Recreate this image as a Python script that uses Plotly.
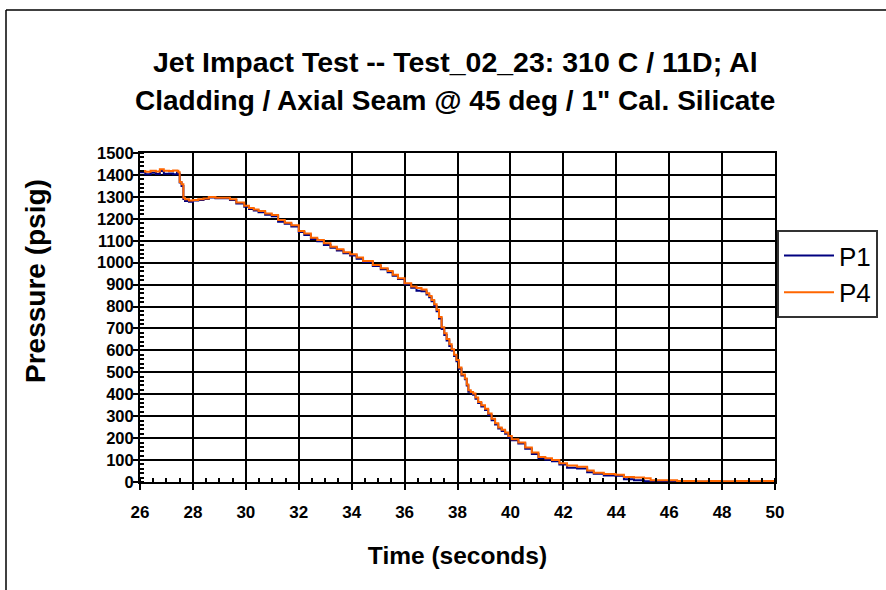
import plotly.graph_objects as go

# ---- data ----
time_s = [26.0, 26.2, 26.4, 26.6, 26.75, 26.9, 27.1, 27.25, 27.4, 27.45, 27.5, 27.57, 27.64, 27.7,
          27.85, 28.0, 28.2, 28.4, 28.6, 28.85, 29.15, 29.4, 29.64, 29.94, 30.12, 30.3, 30.48,
          30.73, 30.98, 31.22, 31.47, 31.72, 32.0, 32.21, 32.46, 32.7, 32.95, 33.2, 33.44, 33.69,
          33.94, 34.19, 34.43, 34.8, 35.1, 35.36, 35.55, 35.75, 36.0, 36.25, 36.45, 36.64, 36.83,
          36.93, 37.02, 37.12, 37.21, 37.3, 37.4, 37.5, 37.59, 37.69, 37.78, 37.87, 37.96, 38.05,
          38.15, 38.28, 38.35, 38.41, 38.5, 38.59, 38.68, 38.78, 38.9, 39.04, 39.16,
          39.29, 39.42, 39.54, 39.67, 39.8, 39.92, 40.05, 40.3, 40.56, 40.81, 41.06, 41.32, 41.57,
          41.85, 42.14, 42.52, 42.9, 43.15, 43.53, 43.97, 44.29, 44.67, 45.05, 45.3, 45.94, 46.3,
          46.95, 47.5, 48.0, 48.5, 49.0, 49.5, 50.0]

p4_psig = [1418, 1414, 1419, 1416, 1426, 1419, 1418, 1420, 1419, 1412, 1368, 1357, 1296, 1289,
           1284, 1286, 1289, 1292, 1299, 1296, 1296, 1289, 1274, 1259, 1249, 1242, 1235,
           1224, 1217, 1194, 1182, 1171, 1144, 1133, 1114, 1103, 1088, 1073, 1061, 1047,
           1038, 1023, 1008, 989, 975, 962, 945, 929, 906, 891, 884, 878, 861,
           848, 830, 810, 785, 752, 705, 678, 652, 628, 605, 580, 556, 522,
           490, 472, 445, 418, 410, 403, 385, 365, 350, 334, 312,
           288, 268, 249, 238, 226, 210, 195, 180, 157, 134, 114, 108, 100,
           85, 75, 70, 52, 42, 36, 33, 23, 20, 17, 8, 8, 5,
           3, 4, 3, 4, 3, 4, 3]

p1_psig = [1412, 1403, 1410, 1404, 1418, 1405, 1407, 1403, 1410, 1405, 1365, 1350, 1290, 1281,
           1278, 1283, 1286, 1290, 1297, 1294, 1294, 1286, 1270, 1255, 1245, 1238, 1230,
           1218, 1212, 1186, 1178, 1165, 1140, 1126, 1108, 1098, 1080, 1068, 1055, 1043,
           1033, 1018, 1003, 985, 970, 956, 940, 925, 902, 886, 872, 870, 855,
           842, 824, 802, 778, 745, 698, 670, 645, 620, 600, 574, 550, 516,
           486, 468, 440, 412, 405, 398, 380, 360, 344, 328, 306,
           282, 262, 244, 232, 220, 204, 190, 175, 152, 128, 108, 102, 95,
           80, 65, 62, 45, 38, 30, 28, 12, 8, 3, 2, 1, 1,
           1, 1, 1, 1, 1, 1, 1]

x_ticks = [26, 28, 30, 32, 34, 36, 38, 40, 42, 44, 46, 48, 50]
y_ticks = list(range(0, 1501, 100))

title_line1 = "Jet Impact Test -- Test_02_23: 310 C / 11D; Al"
title_line2 = "Cladding / Axial Seam @ 45 deg / 1\" Cal. Silicate"
x_title = "Time (seconds)"
y_title = "Pressure (psig)"

# ---- geometry (pixels) ----
W, H = 886, 590
L, R, T, B = 140, 775, 153, 482


def px(x):
    return (x - L) / (R - L)


def py(y):
    return (B - y) / (B - T)


FONT = "Liberation Sans, Arial, sans-serif"

fig = go.Figure()
fig.add_trace(go.Scatter(x=time_s, y=p1_psig, name="P1", mode="lines",
                         line=dict(color="#000080", width=2, shape="hv"), legendgroup="a"))
fig.add_trace(go.Scatter(x=time_s, y=p4_psig, name="P4", mode="lines",
                         line=dict(color="#FF6600", width=2, shape="hv"), legendgroup="b"))

fig.update_layout(
    width=W, height=H,
    margin=dict(l=L, r=W - R, t=T, b=H - B, autoexpand=False),
    paper_bgcolor="white", plot_bgcolor="white",
    font=dict(family=FONT, color="black"),
    showlegend=True,
    legend=dict(x=px(777), y=py(230), xanchor="left", yanchor="top",
                bgcolor="white", bordercolor="#333333", borderwidth=2,
                font=dict(size=26, family=FONT), traceorder="grouped", tracegroupgap=0,
                itemwidth=50),
    annotations=[
        dict(text=f"<b>{title_line1}</b>", x=px(455), y=py(62), xref="paper", yref="paper",
             showarrow=False, font=dict(size=28.5, family=FONT), xanchor="center", yanchor="middle"),
        dict(text=f"<b>{title_line2}</b>", x=px(455), y=py(100), xref="paper", yref="paper",
             showarrow=False, font=dict(size=28, family=FONT), xanchor="center", yanchor="middle"),
        dict(text=f"<b>{y_title}</b>", x=px(35), y=py(281), xref="paper", yref="paper",
             showarrow=False, textangle=-90, font=dict(size=28, family=FONT),
             xanchor="center", yanchor="middle"),
    ],
    shapes=[
        dict(type="line", xref="paper", yref="paper", x0=px(6), y0=py(600), x1=px(6), y1=py(10),
             line=dict(color="black", width=1.5)),
        dict(type="line", xref="paper", yref="paper", x0=px(6), y0=py(10), x1=px(900), y1=py(10),
             line=dict(color="black", width=1.5)),
    ],
)

fig.update_xaxes(
    range=[26, 50], tickvals=x_ticks, ticktext=[f"<b>{v}</b>" for v in x_ticks],
    showgrid=True, gridcolor="black", gridwidth=1.5,
    showline=True, linecolor="black", linewidth=2, mirror=True,
    ticks="outside", ticklen=6, tickwidth=2, tickcolor="black", ticklabelstandoff=8,
    tickfont=dict(size=17, family=FONT), zeroline=False,
    minor=dict(ticks="inside", dtick=0.5, ticklen=4, tickwidth=1.5, tickcolor="black", showgrid=False),
    title=dict(text=f"<b>{x_title}</b>", font=dict(size=24.5, family=FONT), standoff=25),
)
fig.update_yaxes(
    range=[0, 1500], tickvals=y_ticks, ticktext=[f"<b>{v}</b>" for v in y_ticks],
    showgrid=True, gridcolor="black", gridwidth=1.5,
    showline=True, linecolor="black", linewidth=2, mirror=True,
    ticks="outside", ticklen=5, tickwidth=2, tickcolor="black", ticklabelstandoff=-4,
    tickfont=dict(size=16.5, family=FONT), zeroline=False,
    minor=dict(ticks="inside", dtick=20, ticklen=4, tickwidth=1.5, tickcolor="black", showgrid=False),
)

fig.write_html("out.html", config={"displayModeBar": False},
               post_script="document.body.style.margin='0';")
